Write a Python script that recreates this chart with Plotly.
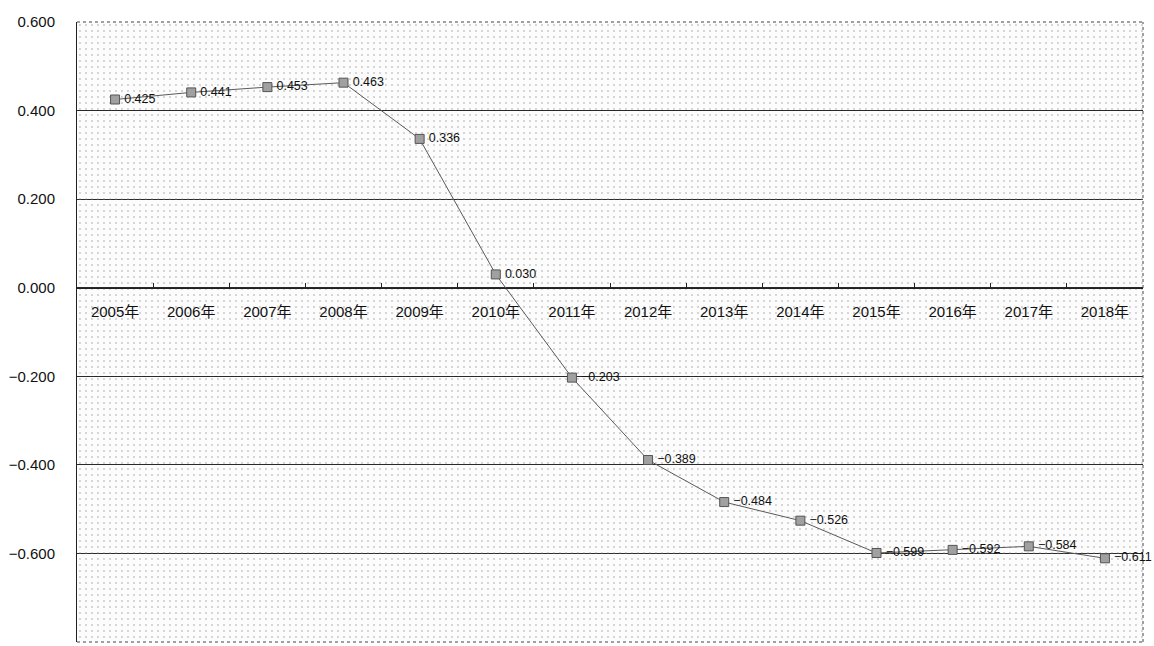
import plotly.graph_objects as go

# Yearly index values
years = ["2005年", "2006年", "2007年", "2008年", "2009年", "2010年", "2011年",
         "2012年", "2013年", "2014年", "2015年", "2016年", "2017年", "2018年"]
values = [0.425, 0.441, 0.453, 0.463, 0.336, 0.030, -0.203,
          -0.389, -0.484, -0.526, -0.599, -0.592, -0.584, -0.611]
y_ticks = [0.6, 0.4, 0.2, 0.0, -0.2, -0.4, -0.6, -0.8]

Y_MIN, Y_MAX = -0.8, 0.6
FONT = "Liberation Sans, Noto Sans CJK JP, sans-serif"

fig = go.Figure()

# Stippled plot-area background: one full-height patterned column per category
fig.add_trace(go.Bar(
    x=years, y=[Y_MAX - Y_MIN] * len(years), base=Y_MIN, width=1,
    marker=dict(color="rgba(0,0,0,0)", line=dict(width=0),
                pattern=dict(shape=".", size=6, solidity=0.07,
                             fgcolor="#8a8a8a", bgcolor="rgba(0,0,0,0)")),
    hoverinfo="skip", showlegend=False,
))

# Data series
fig.add_trace(go.Scatter(
    x=years, y=values, mode="lines+markers+text",
    line=dict(color="#5a5a5a", width=1),
    marker=dict(symbol="square", size=9, color="#a0a0a0",
                line=dict(color="#555555", width=1)),
    text=["\u2009" + f"{v:.3f}".replace("-", "\u2212") for v in values],
    textposition="middle right",
    textfont=dict(family=FONT, size=12.5, color="#111111"),
    cliponaxis=False, showlegend=False,
))

zero_pos = (0 - Y_MIN) / (Y_MAX - Y_MIN)

fig.update_layout(
    width=1154, height=646,
    margin=dict(l=77, r=11, t=22, b=4),
    paper_bgcolor="white", plot_bgcolor="#fcfcfc",
    bargap=0,
    font=dict(family=FONT, size=15, color="#111111"),
    xaxis=dict(
        type="category", categoryorder="array", categoryarray=years,
        range=[-0.5, len(years) - 0.5],
        anchor="free", position=zero_pos, side="bottom",
        showline=True, linecolor="#222222", linewidth=1,
        ticks="inside", ticklen=5, tickcolor="#222222", tickson="boundaries",
        showgrid=False, zeroline=False,
        tickfont=dict(family=FONT, size=15, color="#111111"),
        ticklabelstandoff=10,
    ),
    yaxis=dict(
        range=[Y_MIN, Y_MAX], tickvals=y_ticks, tickformat=".3f",
        showgrid=True, gridcolor="#2a2a2a", gridwidth=1,
        zeroline=False,
        showline=True, linecolor="#222222", linewidth=1,
        ticks="", ticklabelstandoff=18,
        tickfont=dict(family=FONT, size=15, color="#111111"),
    ),
    shapes=[
        # dotted border on top, right and bottom of the plot area
        dict(type="line", xref="paper", yref="paper", x0=0, x1=1, y0=1, y1=1,
             line=dict(color="#444444", width=1, dash="dot")),
        dict(type="line", xref="paper", yref="paper", x0=1, x1=1, y0=0, y1=1,
             line=dict(color="#444444", width=1, dash="dot")),
        dict(type="line", xref="paper", yref="paper", x0=0, x1=1, y0=0, y1=0,
             line=dict(color="#444444", width=1, dash="dot")),
    ],
)

fig.write_html("out.html")
